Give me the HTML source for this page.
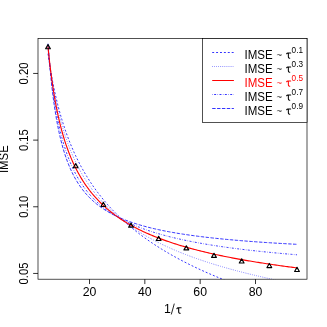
<!DOCTYPE html>
<html><head><meta charset="utf-8"><title>IMSE plot</title>
<style>html,body{margin:0;padding:0;background:#fff;}svg{display:block;will-change:transform;}text{font-family:"Liberation Sans",sans-serif;fill:#000;}</style></head>
<body>
<svg width="327" height="327" viewBox="0 0 327 327">
<rect x="0" y="0" width="327" height="327" fill="#fff"/>
<defs><clipPath id="c"><rect x="38.0" y="38.5" width="269.0" height="240.7"/></clipPath></defs>
<g clip-path="url(#c)" fill="none">
<polyline points="48.00,53.72 49.38,63.02 50.77,71.44 52.15,79.12 53.53,86.18 54.92,92.70 56.30,98.77 57.68,104.42 59.07,109.73 60.45,114.72 61.83,119.42 63.22,123.88 64.60,128.11 65.98,132.13 67.37,135.96 68.75,139.63 70.13,143.13 71.52,146.49 72.90,149.71 74.28,152.81 75.67,155.80 77.05,158.68 78.43,161.46 79.82,164.14 81.20,166.73 82.58,169.25 83.97,171.68 85.35,174.04 86.73,176.34 88.12,178.56 89.50,180.73 90.88,182.84 92.27,184.89 93.65,186.88 95.03,188.83 96.42,190.73 97.80,192.58 99.18,194.39 100.57,196.16 101.95,197.89 103.33,199.58 104.72,201.23 106.10,202.85 107.48,204.43 108.87,205.98 110.25,207.50 111.63,208.99 113.02,210.45 114.40,211.89 115.78,213.29 117.17,214.67 118.55,216.03 119.93,217.36 121.32,218.66 122.70,219.95 124.08,221.21 125.47,222.45 126.85,223.67 128.23,224.87 129.62,226.05 131.00,227.22 132.38,228.36 133.77,229.49 135.15,230.60 136.53,231.69 137.92,232.77 139.30,233.83 140.68,234.88 142.07,235.91 143.45,236.93 144.83,237.93 146.22,238.92 147.60,239.90 148.98,240.86 150.37,241.81 151.75,242.75 153.13,243.67 154.52,244.59 155.90,245.49 157.28,246.38 158.67,247.26 160.05,248.13 161.43,248.99 162.82,249.84 164.20,250.68 165.58,251.51 166.97,252.33 168.35,253.14 169.73,253.94 171.12,254.73 172.50,255.52 173.88,256.29 175.27,257.06 176.65,257.82 178.03,258.57 179.42,259.31 180.80,260.05 182.18,260.77 183.57,261.49 184.95,262.21 186.34,262.91 187.72,263.61 189.10,264.30 190.49,264.99 191.87,265.66 193.25,266.33 194.64,267.00 196.02,267.66 197.40,268.31 198.79,268.96 200.17,269.60 201.55,270.23 202.94,270.86 204.32,271.49 205.70,272.10 207.09,272.72 208.47,273.32 209.85,273.93 211.24,274.52 212.62,275.11 214.00,275.70 215.39,276.28 216.77,276.86 218.15,277.43 219.54,278.00 220.92,278.56 222.30,279.12 223.69,279.67 225.07,280.22 226.45,280.76 227.84,281.31 229.22,281.84 230.60,282.37 231.99,282.90 233.37,283.43 234.75,283.95 236.14,284.46 237.52,284.97 238.90,285.48 240.29,285.99 241.67,286.49 243.05,286.98 244.44,287.48 245.82,287.97 247.20,288.45 248.59,288.94 249.97,289.42 251.35,289.89 252.74,290.37 254.12,290.83 255.50,291.30 256.89,291.76 258.27,292.22 259.65,292.68 261.04,293.14 262.42,293.59 263.80,294.03 265.19,294.48 266.57,294.92 267.95,295.36 269.34,295.80 270.72,296.23 272.10,296.66 273.49,297.09 274.87,297.51 276.25,297.93 277.64,298.35 279.02,298.77 280.40,299.19 281.79,299.60 283.17,300.01 284.55,300.42 285.94,300.82 287.32,301.22 288.70,301.62 290.09,302.02 291.47,302.41 292.85,302.81 294.24,303.20 295.62,303.58 297.00,303.97" stroke="#0000ff" stroke-width="0.8" stroke-dasharray="1.95 1.95" stroke-linecap="butt"/>
<polyline points="48.00,49.84 49.38,61.10 50.77,71.11 52.15,80.08 53.53,88.20 54.92,95.60 56.30,102.39 57.68,108.64 59.07,114.43 60.45,119.82 61.83,124.86 63.22,129.57 64.60,134.00 65.98,138.18 67.37,142.13 68.75,145.87 70.13,149.42 71.52,152.80 72.90,156.02 74.28,159.09 75.67,162.03 77.05,164.84 78.43,167.54 79.82,170.13 81.20,172.62 82.58,175.01 83.97,177.32 85.35,179.55 86.73,181.70 88.12,183.78 89.50,185.79 90.88,187.73 92.27,189.62 93.65,191.44 95.03,193.22 96.42,194.94 97.80,196.61 99.18,198.24 100.57,199.82 101.95,201.36 103.33,202.85 104.72,204.31 106.10,205.74 107.48,207.13 108.87,208.48 110.25,209.80 111.63,211.10 113.02,212.36 114.40,213.59 115.78,214.80 117.17,215.98 118.55,217.13 119.93,218.26 121.32,219.37 122.70,220.45 124.08,221.52 125.47,222.56 126.85,223.58 128.23,224.58 129.62,225.56 131.00,226.53 132.38,227.47 133.77,228.40 135.15,229.31 136.53,230.21 137.92,231.09 139.30,231.96 140.68,232.81 142.07,233.64 143.45,234.47 144.83,235.28 146.22,236.07 147.60,236.86 148.98,237.63 150.37,238.39 151.75,239.14 153.13,239.87 154.52,240.60 155.90,241.31 157.28,242.02 158.67,242.71 160.05,243.39 161.43,244.07 162.82,244.73 164.20,245.39 165.58,246.04 166.97,246.67 168.35,247.30 169.73,247.92 171.12,248.54 172.50,249.14 173.88,249.74 175.27,250.33 176.65,250.91 178.03,251.48 179.42,252.05 180.80,252.61 182.18,253.16 183.57,253.71 184.95,254.25 186.34,254.79 187.72,255.31 189.10,255.83 190.49,256.35 191.87,256.86 193.25,257.36 194.64,257.86 196.02,258.35 197.40,258.84 198.79,259.32 200.17,259.80 201.55,260.27 202.94,260.74 204.32,261.20 205.70,261.66 207.09,262.11 208.47,262.55 209.85,263.00 211.24,263.44 212.62,263.87 214.00,264.30 215.39,264.72 216.77,265.14 218.15,265.56 219.54,265.97 220.92,266.38 222.30,266.79 223.69,267.19 225.07,267.58 226.45,267.98 227.84,268.37 229.22,268.75 230.60,269.14 231.99,269.52 233.37,269.89 234.75,270.26 236.14,270.63 237.52,271.00 238.90,271.36 240.29,271.72 241.67,272.08 243.05,272.43 244.44,272.78 245.82,273.13 247.20,273.47 248.59,273.81 249.97,274.15 251.35,274.49 252.74,274.82 254.12,275.15 255.50,275.48 256.89,275.80 258.27,276.12 259.65,276.44 261.04,276.76 262.42,277.07 263.80,277.39 265.19,277.70 266.57,278.00 267.95,278.31 269.34,278.61 270.72,278.91 272.10,279.21 273.49,279.50 274.87,279.80 276.25,280.09 277.64,280.38 279.02,280.67 280.40,280.95 281.79,281.23 283.17,281.51 284.55,281.79 285.94,282.07 287.32,282.34 288.70,282.62 290.09,282.89 291.47,283.16 292.85,283.42 294.24,283.69 295.62,283.95 297.00,284.22" stroke="#0000ff" stroke-width="0.8" stroke-dasharray="0.49 1.46" stroke-linecap="butt"/>
<polyline points="48.00,44.94 49.38,60.46 50.77,73.75 52.15,85.28 53.53,95.40 54.92,104.36 56.30,112.36 57.68,119.55 59.07,126.05 60.45,131.97 61.83,137.38 63.22,142.35 64.60,146.94 65.98,151.18 67.37,155.12 68.75,158.79 70.13,162.22 71.52,165.43 72.90,168.45 74.28,171.28 75.67,173.96 77.05,176.49 78.43,178.88 79.82,181.15 81.20,183.31 82.58,185.36 83.97,187.31 85.35,189.18 86.73,190.96 88.12,192.66 89.50,194.29 90.88,195.85 92.27,197.35 93.65,198.79 95.03,200.17 96.42,201.50 97.80,202.78 99.18,204.02 100.57,205.21 101.95,206.36 103.33,207.47 104.72,208.54 106.10,209.58 107.48,210.58 108.87,211.55 110.25,212.50 111.63,213.41 113.02,214.30 114.40,215.16 115.78,215.99 117.17,216.81 118.55,217.59 119.93,218.36 121.32,219.11 122.70,219.84 124.08,220.54 125.47,221.23 126.85,221.90 128.23,222.56 129.62,223.20 131.00,223.82 132.38,224.43 133.77,225.03 135.15,225.61 136.53,226.17 137.92,226.73 139.30,227.27 140.68,227.80 142.07,228.32 143.45,228.82 144.83,229.32 146.22,229.80 147.60,230.28 148.98,230.75 150.37,231.20 151.75,231.65 153.13,232.09 154.52,232.52 155.90,232.94 157.28,233.35 158.67,233.76 160.05,234.16 161.43,234.55 162.82,234.93 164.20,235.31 165.58,235.68 166.97,236.04 168.35,236.40 169.73,236.75 171.12,237.09 172.50,237.43 173.88,237.76 175.27,238.09 176.65,238.41 178.03,238.73 179.42,239.04 180.80,239.35 182.18,239.65 183.57,239.95 184.95,240.24 186.34,240.53 187.72,240.81 189.10,241.09 190.49,241.36 191.87,241.64 193.25,241.90 194.64,242.16 196.02,242.42 197.40,242.68 198.79,242.93 200.17,243.18 201.55,243.42 202.94,243.66 204.32,243.90 205.70,244.14 207.09,244.37 208.47,244.60 209.85,244.82 211.24,245.04 212.62,245.26 214.00,245.48 215.39,245.69 216.77,245.90 218.15,246.11 219.54,246.32 220.92,246.52 222.30,246.72 223.69,246.92 225.07,247.11 226.45,247.31 227.84,247.50 229.22,247.69 230.60,247.87 231.99,248.06 233.37,248.24 234.75,248.42 236.14,248.60 237.52,248.77 238.90,248.95 240.29,249.12 241.67,249.29 243.05,249.45 244.44,249.62 245.82,249.78 247.20,249.95 248.59,250.11 249.97,250.26 251.35,250.42 252.74,250.58 254.12,250.73 255.50,250.88 256.89,251.03 258.27,251.18 259.65,251.33 261.04,251.47 262.42,251.62 263.80,251.76 265.19,251.90 266.57,252.04 267.95,252.18 269.34,252.32 270.72,252.45 272.10,252.59 273.49,252.72 274.87,252.85 276.25,252.98 277.64,253.11 279.02,253.24 280.40,253.36 281.79,253.49 283.17,253.61 284.55,253.74 285.94,253.86 287.32,253.98 288.70,254.10 290.09,254.22 291.47,254.34 292.85,254.45 294.24,254.57 295.62,254.68 297.00,254.80" stroke="#0000ff" stroke-width="0.8" stroke-dasharray="0.49 1.46 1.95 1.46" stroke-linecap="butt"/>
<polyline points="48.00,43.68 49.38,61.43 50.77,76.36 52.15,89.09 53.53,100.09 54.92,109.69 56.30,118.15 57.68,125.66 59.07,132.38 60.45,138.42 61.83,143.89 63.22,148.86 64.60,153.40 65.98,157.56 67.37,161.40 68.75,164.94 70.13,168.22 71.52,171.27 72.90,174.12 74.28,176.77 75.67,179.26 77.05,181.60 78.43,183.80 79.82,185.87 81.20,187.82 82.58,189.67 83.97,191.42 85.35,193.08 86.73,194.66 88.12,196.16 89.50,197.59 90.88,198.95 92.27,200.25 93.65,201.49 95.03,202.68 96.42,203.82 97.80,204.91 99.18,205.96 100.57,206.97 101.95,207.94 103.33,208.87 104.72,209.76 106.10,210.63 107.48,211.46 108.87,212.26 110.25,213.04 111.63,213.79 113.02,214.51 114.40,215.21 115.78,215.89 117.17,216.54 118.55,217.18 119.93,217.80 121.32,218.39 122.70,218.97 124.08,219.54 125.47,220.08 126.85,220.61 128.23,221.13 129.62,221.63 131.00,222.12 132.38,222.59 133.77,223.06 135.15,223.51 136.53,223.95 137.92,224.38 139.30,224.79 140.68,225.20 142.07,225.60 143.45,225.98 144.83,226.36 146.22,226.73 147.60,227.09 148.98,227.45 150.37,227.79 151.75,228.13 153.13,228.46 154.52,228.78 155.90,229.09 157.28,229.40 158.67,229.70 160.05,230.00 161.43,230.29 162.82,230.57 164.20,230.85 165.58,231.12 166.97,231.39 168.35,231.65 169.73,231.91 171.12,232.16 172.50,232.41 173.88,232.65 175.27,232.89 176.65,233.12 178.03,233.35 179.42,233.58 180.80,233.80 182.18,234.01 183.57,234.23 184.95,234.44 186.34,234.64 187.72,234.84 189.10,235.04 190.49,235.24 191.87,235.43 193.25,235.62 194.64,235.81 196.02,235.99 197.40,236.17 198.79,236.35 200.17,236.52 201.55,236.69 202.94,236.86 204.32,237.03 205.70,237.19 207.09,237.35 208.47,237.51 209.85,237.67 211.24,237.82 212.62,237.98 214.00,238.12 215.39,238.27 216.77,238.42 218.15,238.56 219.54,238.70 220.92,238.84 222.30,238.98 223.69,239.11 225.07,239.25 226.45,239.38 227.84,239.51 229.22,239.64 230.60,239.76 231.99,239.89 233.37,240.01 234.75,240.13 236.14,240.25 237.52,240.37 238.90,240.49 240.29,240.60 241.67,240.72 243.05,240.83 244.44,240.94 245.82,241.05 247.20,241.16 248.59,241.27 249.97,241.37 251.35,241.48 252.74,241.58 254.12,241.68 255.50,241.78 256.89,241.88 258.27,241.98 259.65,242.08 261.04,242.17 262.42,242.27 263.80,242.36 265.19,242.46 266.57,242.55 267.95,242.64 269.34,242.73 270.72,242.82 272.10,242.91 273.49,242.99 274.87,243.08 276.25,243.16 277.64,243.25 279.02,243.33 280.40,243.41 281.79,243.49 283.17,243.57 284.55,243.65 285.94,243.73 287.32,243.81 288.70,243.89 290.09,243.96 291.47,244.04 292.85,244.11 294.24,244.19 295.62,244.26 297.00,244.34" stroke="#0000ff" stroke-width="0.8" stroke-dasharray="3.41 1.46" stroke-linecap="butt"/>
<polyline points="48.00,46.88 49.38,60.23 50.77,71.87 52.15,82.14 53.53,91.29 54.92,99.51 56.30,106.94 57.68,113.71 59.07,119.91 60.45,125.61 61.83,130.88 63.22,135.77 64.60,140.32 65.98,144.57 67.37,148.55 68.75,152.29 70.13,155.81 71.52,159.14 72.90,162.28 74.28,165.27 75.67,168.10 77.05,170.79 78.43,173.35 79.82,175.80 81.20,178.14 82.58,180.38 83.97,182.52 85.35,184.58 86.73,186.55 88.12,188.45 89.50,190.28 90.88,192.04 92.27,193.74 93.65,195.37 95.03,196.95 96.42,198.48 97.80,199.96 99.18,201.39 100.57,202.77 101.95,204.12 103.33,205.42 104.72,206.68 106.10,207.91 107.48,209.10 108.87,210.26 110.25,211.39 111.63,212.48 113.02,213.55 114.40,214.59 115.78,215.61 117.17,216.59 118.55,217.56 119.93,218.50 121.32,219.42 122.70,220.31 124.08,221.19 125.47,222.04 126.85,222.88 128.23,223.70 129.62,224.50 131.00,225.28 132.38,226.05 133.77,226.80 135.15,227.53 136.53,228.25 137.92,228.96 139.30,229.65 140.68,230.32 142.07,230.99 143.45,231.64 144.83,232.28 146.22,232.91 147.60,233.52 148.98,234.13 150.37,234.72 151.75,235.31 153.13,235.88 154.52,236.45 155.90,237.00 157.28,237.54 158.67,238.08 160.05,238.61 161.43,239.12 162.82,239.63 164.20,240.14 165.58,240.63 166.97,241.12 168.35,241.59 169.73,242.06 171.12,242.53 172.50,242.99 173.88,243.44 175.27,243.88 176.65,244.32 178.03,244.75 179.42,245.17 180.80,245.59 182.18,246.00 183.57,246.41 184.95,246.81 186.34,247.21 187.72,247.60 189.10,247.98 190.49,248.36 191.87,248.74 193.25,249.11 194.64,249.47 196.02,249.83 197.40,250.19 198.79,250.54 200.17,250.89 201.55,251.23 202.94,251.57 204.32,251.90 205.70,252.23 207.09,252.56 208.47,252.88 209.85,253.20 211.24,253.52 212.62,253.83 214.00,254.14 215.39,254.44 216.77,254.74 218.15,255.04 219.54,255.33 220.92,255.62 222.30,255.91 223.69,256.19 225.07,256.48 226.45,256.75 227.84,257.03 229.22,257.30 230.60,257.57 231.99,257.84 233.37,258.10 234.75,258.36 236.14,258.62 237.52,258.88 238.90,259.13 240.29,259.38 241.67,259.63 243.05,259.87 244.44,260.12 245.82,260.36 247.20,260.60 248.59,260.83 249.97,261.07 251.35,261.30 252.74,261.53 254.12,261.75 255.50,261.98 256.89,262.20 258.27,262.42 259.65,262.64 261.04,262.86 262.42,263.07 263.80,263.29 265.19,263.50 266.57,263.71 267.95,263.91 269.34,264.12 270.72,264.32 272.10,264.53 273.49,264.73 274.87,264.92 276.25,265.12 277.64,265.32 279.02,265.51 280.40,265.70 281.79,265.89 283.17,266.08 284.55,266.27 285.94,266.45 287.32,266.64 288.70,266.82 290.09,267.00 291.47,267.18 292.85,267.36 294.24,267.53 295.62,267.71 297.00,267.88" stroke="#ff0000" stroke-width="1.12" stroke-linecap="round" stroke-linejoin="round"/>
<path d="M48.00,44.60 L50.38,48.73 L45.62,48.73 Z" stroke="#000" stroke-width="1.15" stroke-linejoin="round"/>
<path d="M75.67,163.65 L78.05,167.78 L73.29,167.78 Z" stroke="#000" stroke-width="1.15" stroke-linejoin="round"/>
<path d="M103.33,202.35 L105.72,206.47 L100.95,206.47 Z" stroke="#000" stroke-width="1.15" stroke-linejoin="round"/>
<path d="M131.00,223.05 L133.38,227.18 L128.62,227.18 Z" stroke="#000" stroke-width="1.15" stroke-linejoin="round"/>
<path d="M158.67,236.35 L161.05,240.47 L156.29,240.47 Z" stroke="#000" stroke-width="1.15" stroke-linejoin="round"/>
<path d="M186.34,245.75 L188.72,249.88 L183.95,249.88 Z" stroke="#000" stroke-width="1.15" stroke-linejoin="round"/>
<path d="M214.00,253.25 L216.38,257.38 L211.62,257.38 Z" stroke="#000" stroke-width="1.15" stroke-linejoin="round"/>
<path d="M241.67,258.85 L244.05,262.98 L239.29,262.98 Z" stroke="#000" stroke-width="1.15" stroke-linejoin="round"/>
<path d="M269.34,263.45 L271.72,267.57 L266.95,267.57 Z" stroke="#000" stroke-width="1.15" stroke-linejoin="round"/>
<path d="M297.00,267.35 L299.38,271.48 L294.62,271.48 Z" stroke="#000" stroke-width="1.15" stroke-linejoin="round"/>
</g>
<g stroke="#000" stroke-width="0.8" fill="none" stroke-linecap="butt">
<rect x="38.0" y="38.5" width="269.0" height="240.7" stroke-width="0.68"/>
<line x1="89.50" y1="279.2" x2="89.50" y2="284.05"/>
<line x1="144.83" y1="279.2" x2="144.83" y2="284.05"/>
<line x1="200.17" y1="279.2" x2="200.17" y2="284.05"/>
<line x1="255.50" y1="279.2" x2="255.50" y2="284.05"/>
<line x1="38.0" y1="273.45" x2="33.15" y2="273.45"/>
<line x1="38.0" y1="206.78" x2="33.15" y2="206.78"/>
<line x1="38.0" y1="140.12" x2="33.15" y2="140.12"/>
<line x1="38.0" y1="73.45" x2="33.15" y2="73.45"/>
</g>
<text transform="translate(89.50,296.3) scale(1,1.06)" font-size="12.3" text-anchor="middle">20</text>
<text transform="translate(144.83,296.3) scale(1,1.06)" font-size="12.3" text-anchor="middle">40</text>
<text transform="translate(200.17,296.3) scale(1,1.06)" font-size="12.3" text-anchor="middle">60</text>
<text transform="translate(255.50,296.3) scale(1,1.06)" font-size="12.3" text-anchor="middle">80</text>
<text transform="translate(27.5,273.45) rotate(-90) scale(1,1.08)" font-size="11.3" text-anchor="middle">0.05</text>
<text transform="translate(27.5,206.78) rotate(-90) scale(1,1.08)" font-size="11.3" text-anchor="middle">0.10</text>
<text transform="translate(27.5,140.12) rotate(-90) scale(1,1.08)" font-size="11.3" text-anchor="middle">0.15</text>
<text transform="translate(27.5,73.45) rotate(-90) scale(1,1.08)" font-size="11.3" text-anchor="middle">0.20</text>
<text transform="translate(8.4,159.15) rotate(-90) scale(1,1.07)" font-size="11.4" text-anchor="middle">IMSE</text>
<text x="163.9" y="312.9" font-size="12.3">1</text><line x1="171.4" y1="314.1" x2="174.2" y2="304.0" stroke="#000" stroke-width="0.85" stroke-linecap="round"/>
<path transform="translate(176.10,313.10) scale(1.05)" d="M0.75,-4.2 Q1.1,-5.05 2.0,-5.05 L4.8,-5.05 M2.45,-5.05 L2.45,-1.4 Q2.45,0.3 3.9,0.15" fill="none" stroke="#000" stroke-width="1.03" stroke-linecap="round" stroke-linejoin="round"/>
<rect x="202.5" y="38.5" width="104.5" height="83.95" fill="#fff" stroke="#000" stroke-width="0.68"/>
<line x1="212.2" y1="52.50" x2="233.9" y2="52.50" stroke="#0000ff" stroke-width="0.8" stroke-linecap="butt" stroke-dasharray="1.95 1.95"/>
<text transform="translate(244.5,58.95) scale(0.985,1.07)" font-size="11.7" style="fill:#000">IMSE</text><text x="276.6" y="57.90" font-size="9.6" style="fill:#000" fill-opacity="0.85">~</text>
<path transform="translate(285.90,58.00) scale(1.0)" d="M0.75,-4.2 Q1.1,-5.05 2.0,-5.05 L4.8,-5.05 M2.45,-5.05 L2.45,-1.4 Q2.45,0.3 3.9,0.15" fill="none" stroke="#000" stroke-width="1.03" stroke-linecap="round" stroke-linejoin="round"/>
<text transform="translate(291.6,52.75) scale(1,1.15)" font-size="8.2" style="fill:#000">0.1</text>
<line x1="212.2" y1="66.50" x2="233.9" y2="66.50" stroke="#0000ff" stroke-width="0.8" stroke-linecap="butt" stroke-dasharray="0.49 1.46"/>
<text transform="translate(244.5,72.95) scale(0.985,1.07)" font-size="11.7" style="fill:#000">IMSE</text><text x="276.6" y="71.90" font-size="9.6" style="fill:#000" fill-opacity="0.85">~</text>
<path transform="translate(285.90,72.00) scale(1.0)" d="M0.75,-4.2 Q1.1,-5.05 2.0,-5.05 L4.8,-5.05 M2.45,-5.05 L2.45,-1.4 Q2.45,0.3 3.9,0.15" fill="none" stroke="#000" stroke-width="1.03" stroke-linecap="round" stroke-linejoin="round"/>
<text transform="translate(291.6,66.75) scale(1,1.15)" font-size="8.2" style="fill:#000">0.3</text>
<line x1="212.2" y1="80.50" x2="233.9" y2="80.50" stroke="#ff0000" stroke-width="1.05" stroke-linecap="butt"/>
<text transform="translate(244.5,86.95) scale(0.985,1.07)" font-size="11.7" style="fill:#ff0000">IMSE</text><text x="276.6" y="85.90" font-size="9.6" style="fill:#ff0000" fill-opacity="0.85">~</text>
<path transform="translate(285.90,86.00) scale(1.0)" d="M0.75,-4.2 Q1.1,-5.05 2.0,-5.05 L4.8,-5.05 M2.45,-5.05 L2.45,-1.4 Q2.45,0.3 3.9,0.15" fill="none" stroke="#ff0000" stroke-width="1.03" stroke-linecap="round" stroke-linejoin="round"/>
<text transform="translate(291.6,80.75) scale(1,1.15)" font-size="8.2" style="fill:#ff0000">0.5</text>
<line x1="212.2" y1="94.50" x2="233.9" y2="94.50" stroke="#0000ff" stroke-width="0.8" stroke-linecap="butt" stroke-dasharray="0.49 1.46 1.95 1.46"/>
<text transform="translate(244.5,100.95) scale(0.985,1.07)" font-size="11.7" style="fill:#000">IMSE</text><text x="276.6" y="99.90" font-size="9.6" style="fill:#000" fill-opacity="0.85">~</text>
<path transform="translate(285.90,100.00) scale(1.0)" d="M0.75,-4.2 Q1.1,-5.05 2.0,-5.05 L4.8,-5.05 M2.45,-5.05 L2.45,-1.4 Q2.45,0.3 3.9,0.15" fill="none" stroke="#000" stroke-width="1.03" stroke-linecap="round" stroke-linejoin="round"/>
<text transform="translate(291.6,94.75) scale(1,1.15)" font-size="8.2" style="fill:#000">0.7</text>
<line x1="212.2" y1="108.50" x2="233.9" y2="108.50" stroke="#0000ff" stroke-width="0.8" stroke-linecap="butt" stroke-dasharray="3.41 1.46"/>
<text transform="translate(244.5,114.95) scale(0.985,1.07)" font-size="11.7" style="fill:#000">IMSE</text><text x="276.6" y="113.90" font-size="9.6" style="fill:#000" fill-opacity="0.85">~</text>
<path transform="translate(285.90,114.00) scale(1.0)" d="M0.75,-4.2 Q1.1,-5.05 2.0,-5.05 L4.8,-5.05 M2.45,-5.05 L2.45,-1.4 Q2.45,0.3 3.9,0.15" fill="none" stroke="#000" stroke-width="1.03" stroke-linecap="round" stroke-linejoin="round"/>
<text transform="translate(291.6,108.75) scale(1,1.15)" font-size="8.2" style="fill:#000">0.9</text>
</svg></body></html>
